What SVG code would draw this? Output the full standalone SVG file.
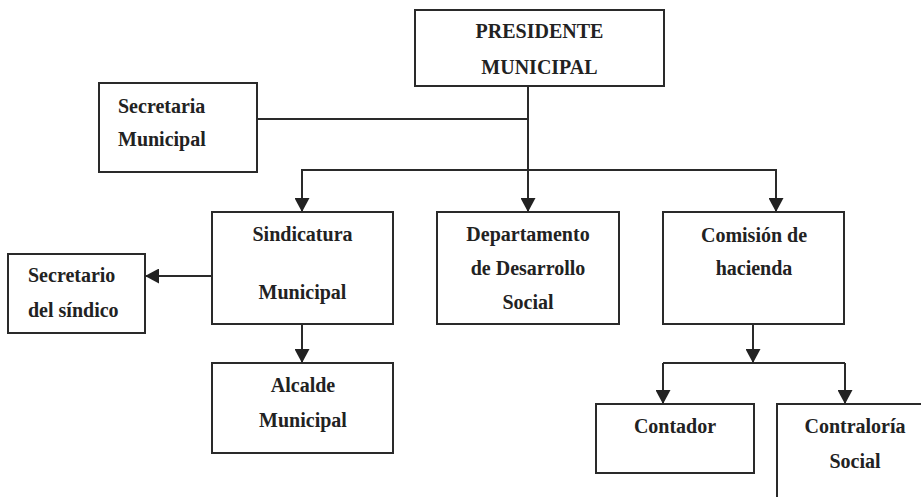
<svg xmlns="http://www.w3.org/2000/svg" width="921" height="497" viewBox="0 0 921 497">
<style>
.n rect,.box{fill:#fff;stroke:#2a2a2a;stroke-width:2}
.box{fill:none}
.c path{fill:none;stroke:#2a2a2a;stroke-width:2}
text{font-family:"Liberation Serif","Times New Roman",serif;font-weight:bold;font-size:20px;fill:#222}
.m{text-anchor:middle}
</style>
<defs>
<marker id="ah" markerUnits="userSpaceOnUse" markerWidth="15" markerHeight="15" refX="14" refY="7.5" orient="auto">
<path d="M0,0 L14,7.5 L0,15 z" fill="#222"/>
</marker>
</defs>
<rect width="921" height="497" fill="#fff"/>
<g class="c">
<path d="M528,86 V212" marker-end="url(#ah)"/>
<path d="M257,119 H528"/>
<path d="M528,170 H302 V212" marker-end="url(#ah)"/>
<path d="M528,170 H776 V212" marker-end="url(#ah)"/>
<path d="M212,276 H145" marker-end="url(#ah)"/>
<path d="M302,318 V363" marker-end="url(#ah)"/>
<path d="M753,325 V363" marker-end="url(#ah)"/>
<path d="M663,363 H845"/>
<path d="M663,363 V404" marker-end="url(#ah)"/>
<path d="M845,363 V404" marker-end="url(#ah)"/>
</g>
<g class="n">
<g id="presidente"><rect x="415" y="10" width="249" height="76"/><text class="m" x="539.5" y="38">PRESIDENTE</text><text class="m" x="539.5" y="74">MUNICIPAL</text></g>
<g id="secretaria"><rect x="99" y="83" width="158" height="89"/><text x="118" y="113">Secretaria</text><text x="118" y="146">Municipal</text></g>
<g id="sindicatura"><rect x="212" y="212" width="181" height="112"/><text class="m" x="302.5" y="241">Sindicatura</text><text class="m" x="302.5" y="299">Municipal</text></g>
<g id="secretario"><rect x="8" y="254" width="137" height="79"/><text x="28" y="282">Secretario</text><text x="28" y="317">del síndico</text></g>
<g id="departamento"><rect x="437" y="212" width="182" height="112"/><text class="m" x="528" y="241">Departamento</text><text class="m" x="528" y="275">de Desarrollo</text><text class="m" x="528" y="309">Social</text></g>
<g id="comision"><rect x="663" y="212" width="181" height="112"/><text class="m" x="754" y="242">Comisión de</text><text class="m" x="754" y="275">hacienda</text></g>
<g id="alcalde"><rect x="212" y="363" width="181" height="90"/><text class="m" x="303" y="392">Alcalde</text><text class="m" x="303" y="427">Municipal</text></g>
<g id="contador"><rect x="596" y="404" width="158" height="69"/><text class="m" x="675" y="433">Contador</text></g>
<g id="contraloria"><path class="box" d="M777,497 V404 H921"/><text class="m" x="855" y="433">Contraloría</text><text class="m" x="855" y="468">Social</text></g>
</g>
</svg>
